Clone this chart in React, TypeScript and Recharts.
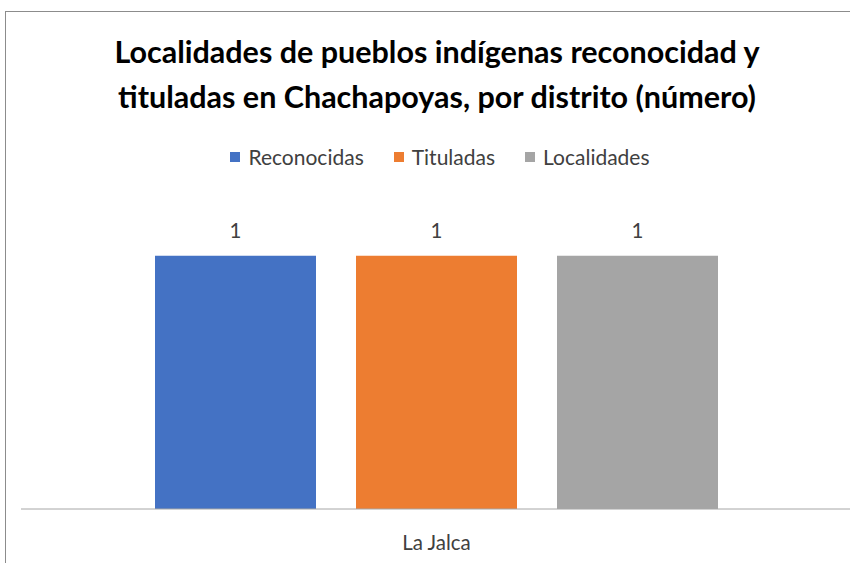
import { BarChart, Bar, XAxis, YAxis, LabelList } from 'recharts';

/* ------------------------------------------------------------------ */
/*  Localidades de pueblos indígenas — Chachapoyas, por distrito      */
/* ------------------------------------------------------------------ */
const districts = ['La Jalca'];
const reconocidas = [1];
const tituladas = [1];
const localidades = [1];

const series = [
  { key: 'reconocidas', name: 'Reconocidas', color: '#4472C4', values: reconocidas },
  { key: 'tituladas', name: 'Tituladas', color: '#ED7D31', values: tituladas },
  { key: 'localidades', name: 'Localidades', color: '#A5A5A5', values: localidades },
];

const data = districts.map((district, i) => {
  const row: Record<string, string | number> = { district };
  series.forEach((s) => {
    row[s.key] = s.values[i];
  });
  return row;
});

const FONT = 'Lato, "Noto Sans", sans-serif';

export default function App() {
  return (
    <div style={{ position: 'absolute', left: 0, top: 0, width: 850, height: 563, overflow: 'hidden', background: '#fff' }}>
      {/* chart frame, cut off at the right and bottom like the reference */}
      <div style={{ position: 'absolute', left: 5, top: 11, width: 900, height: 600, border: '1px solid #8c8c8c' }} />

      <div
        style={{
          position: 'absolute',
          left: 0,
          top: 29,
          width: 874,
          textAlign: 'center',
          fontFamily: FONT,
          fontWeight: 700,
          fontSize: 30.5,
          lineHeight: '45px',
          color: '#000',
        }}
      >
        Localidades de pueblos indígenas reconocidad y
        <br />
        tituladas en Chachapoyas, por distrito (número)
      </div>

      {/* legend: small squares + label, centred */}
      <div
        style={{
          position: 'absolute',
          left: 0,
          top: 143,
          width: 880,
          display: 'flex',
          justifyContent: 'center',
          gap: 30,
          fontFamily: FONT,
          fontSize: 21,
          lineHeight: '28px',
          color: '#404040',
        }}
      >
        {series.map((s) => (
          <div key={s.key} style={{ display: 'flex', alignItems: 'center' }}>
            <span style={{ width: 10, height: 10, background: s.color, marginRight: 8, display: 'inline-block' }} />
            <span>{s.name}</span>
          </div>
        ))}
      </div>

      <div style={{ position: 'absolute', left: 0, top: 0 }}>
        <BarChart
          width={860}
          height={563}
          data={data}
          margin={{ top: 205, right: 8, bottom: 24, left: 21 }}
          barCategoryGap={134}
          barGap={40}
        >
          <XAxis
            dataKey="district"
            height={30}
            axisLine={{ stroke: '#a6a6a6', strokeWidth: 1 }}
            tickLine={false}
            tick={{ fill: '#404040', fontSize: 20.5, fontFamily: FONT }}
            tickMargin={20}
          />
          <YAxis hide domain={[0, 1.2]} />
          {series.map((s) => (
            <Bar key={s.key} dataKey={s.key} name={s.name} fill={s.color} isAnimationActive={false}>
              <LabelList
                dataKey={s.key}
                position="top"
                offset={18}
                style={{ fill: '#404040', fontSize: 20.5, fontFamily: FONT }}
              />
            </Bar>
          ))}
        </BarChart>
      </div>
    </div>
  );
}
